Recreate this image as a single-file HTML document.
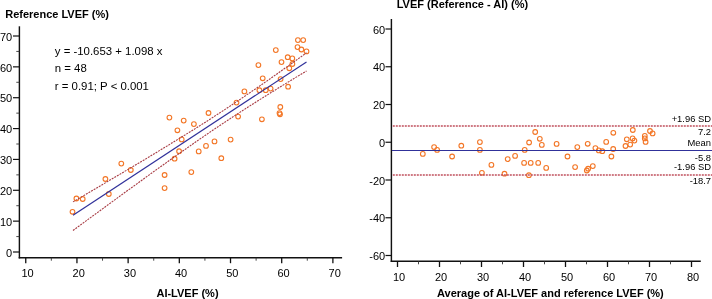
<!DOCTYPE html>
<html><head><meta charset="utf-8"><style>
html,body{margin:0;padding:0;background:#fff;}
body{width:712px;height:299px;overflow:hidden;}
svg{display:block;will-change:transform;}
text{font-family:"Liberation Sans",sans-serif;fill:#000;}
.b{font-weight:bold;font-size:11px;}
.t{font-size:11px;}
.s{font-size:9.4px;}
.e{font-size:11.4px;}
</style></head><body>
<svg width="712" height="299" viewBox="0 0 712 299">

<text class="b" x="5.2" y="18.3">Reference LVEF (%)</text>
<g stroke="#111" stroke-width="1.45" fill="none">
<line x1="19.4" y1="26.3" x2="19.4" y2="258.4"/>
<line x1="18.7" y1="257.7" x2="342.1" y2="257.7"/>
<line x1="13.0" y1="252.00" x2="19.4" y2="252.00" stroke-width="1.2"/>
<line x1="13.0" y1="221.14" x2="19.4" y2="221.14" stroke-width="1.2"/>
<line x1="13.0" y1="190.29" x2="19.4" y2="190.29" stroke-width="1.2"/>
<line x1="13.0" y1="159.43" x2="19.4" y2="159.43" stroke-width="1.2"/>
<line x1="13.0" y1="128.57" x2="19.4" y2="128.57" stroke-width="1.2"/>
<line x1="13.0" y1="97.72" x2="19.4" y2="97.72" stroke-width="1.2"/>
<line x1="13.0" y1="66.86" x2="19.4" y2="66.86" stroke-width="1.2"/>
<line x1="13.0" y1="36.00" x2="19.4" y2="36.00" stroke-width="1.2"/>
<line x1="25.75" y1="257.7" x2="25.75" y2="263.2" stroke-width="1.3"/>
<line x1="76.94" y1="257.7" x2="76.94" y2="263.2" stroke-width="1.3"/>
<line x1="128.13" y1="257.7" x2="128.13" y2="263.2" stroke-width="1.3"/>
<line x1="179.32" y1="257.7" x2="179.32" y2="263.2" stroke-width="1.3"/>
<line x1="230.51" y1="257.7" x2="230.51" y2="263.2" stroke-width="1.3"/>
<line x1="281.70" y1="257.7" x2="281.70" y2="263.2" stroke-width="1.3"/>
<line x1="332.89" y1="257.7" x2="332.89" y2="263.2" stroke-width="1.3"/>
</g>
<g stroke="#333" stroke-width="0.9" fill="none">
<line x1="16.3" y1="236.57" x2="19.4" y2="236.57"/>
<line x1="16.3" y1="205.71" x2="19.4" y2="205.71"/>
<line x1="16.3" y1="174.86" x2="19.4" y2="174.86"/>
<line x1="16.3" y1="144.00" x2="19.4" y2="144.00"/>
<line x1="16.3" y1="113.14" x2="19.4" y2="113.14"/>
<line x1="16.3" y1="82.29" x2="19.4" y2="82.29"/>
<line x1="16.3" y1="51.43" x2="19.4" y2="51.43"/>
<line x1="51.34" y1="257.7" x2="51.34" y2="260.7"/>
<line x1="102.53" y1="257.7" x2="102.53" y2="260.7"/>
<line x1="153.72" y1="257.7" x2="153.72" y2="260.7"/>
<line x1="204.91" y1="257.7" x2="204.91" y2="260.7"/>
<line x1="256.11" y1="257.7" x2="256.11" y2="260.7"/>
<line x1="307.29" y1="257.7" x2="307.29" y2="260.7"/>
</g>
<text class="t" x="12.2" y="256.70" text-anchor="end">0</text>
<text class="t" x="12.2" y="225.84" text-anchor="end">10</text>
<text class="t" x="12.2" y="194.99" text-anchor="end">20</text>
<text class="t" x="12.2" y="164.13" text-anchor="end">30</text>
<text class="t" x="12.2" y="133.27" text-anchor="end">40</text>
<text class="t" x="12.2" y="102.42" text-anchor="end">50</text>
<text class="t" x="12.2" y="71.56" text-anchor="end">60</text>
<text class="t" x="12.2" y="40.70" text-anchor="end">70</text>
<text class="t" x="27.55" y="276.5" text-anchor="middle">10</text>
<text class="t" x="78.74" y="276.5" text-anchor="middle">20</text>
<text class="t" x="129.93" y="276.5" text-anchor="middle">30</text>
<text class="t" x="181.12" y="276.5" text-anchor="middle">40</text>
<text class="t" x="232.31" y="276.5" text-anchor="middle">50</text>
<text class="t" x="283.50" y="276.5" text-anchor="middle">60</text>
<text class="t" x="334.69" y="276.5" text-anchor="middle">70</text>
<text class="b" x="187.5" y="296.7" text-anchor="middle">AI-LVEF (%)</text>
<text class="e" x="54.8" y="54.5">y = -10.653 + 1.098 x</text>
<text class="e" x="54.8" y="72.1">n = 48</text>
<text class="e" x="54.8" y="89.6">r = 0.91; P &lt; 0.001</text>
<g fill="none" stroke="#f37626" stroke-width="1.1">
<circle cx="72.5" cy="211.8" r="2.35"/>
<circle cx="76.4" cy="198.5" r="2.35"/>
<circle cx="82.7" cy="199" r="2.35"/>
<circle cx="105.4" cy="179" r="2.35"/>
<circle cx="108.8" cy="194" r="2.35"/>
<circle cx="121.3" cy="163.6" r="2.35"/>
<circle cx="130.8" cy="170" r="2.35"/>
<circle cx="164.6" cy="175" r="2.35"/>
<circle cx="164.6" cy="188.1" r="2.35"/>
<circle cx="169.4" cy="117.6" r="2.35"/>
<circle cx="174.6" cy="158.7" r="2.35"/>
<circle cx="177.4" cy="130.3" r="2.35"/>
<circle cx="179.1" cy="151.2" r="2.35"/>
<circle cx="181.7" cy="139.4" r="2.35"/>
<circle cx="183.7" cy="120.6" r="2.35"/>
<circle cx="191.3" cy="172.1" r="2.35"/>
<circle cx="193.9" cy="124.1" r="2.35"/>
<circle cx="198.7" cy="151.4" r="2.35"/>
<circle cx="206" cy="145.9" r="2.35"/>
<circle cx="208.5" cy="113" r="2.35"/>
<circle cx="214.5" cy="141.4" r="2.35"/>
<circle cx="221.3" cy="158.2" r="2.35"/>
<circle cx="230.6" cy="139.6" r="2.35"/>
<circle cx="236.5" cy="102.6" r="2.35"/>
<circle cx="238.1" cy="116.6" r="2.35"/>
<circle cx="244.4" cy="91.4" r="2.35"/>
<circle cx="258.4" cy="65.1" r="2.35"/>
<circle cx="259.4" cy="90.2" r="2.35"/>
<circle cx="261.9" cy="119.3" r="2.35"/>
<circle cx="262.7" cy="78.3" r="2.35"/>
<circle cx="265.7" cy="90.2" r="2.35"/>
<circle cx="270.6" cy="88.6" r="2.35"/>
<circle cx="275.8" cy="50.1" r="2.35"/>
<circle cx="279.5" cy="113.1" r="2.35"/>
<circle cx="280.0" cy="114.3" r="2.35"/>
<circle cx="280.3" cy="107" r="2.35"/>
<circle cx="280.6" cy="79.1" r="2.35"/>
<circle cx="281.5" cy="62.1" r="2.35"/>
<circle cx="287.7" cy="57.2" r="2.35"/>
<circle cx="288.1" cy="86.7" r="2.35"/>
<circle cx="289.3" cy="68.3" r="2.35"/>
<circle cx="292.3" cy="58.4" r="2.35"/>
<circle cx="292.4" cy="64" r="2.35"/>
<circle cx="297.9" cy="40.1" r="2.35"/>
<circle cx="297.5" cy="47.1" r="2.35"/>
<circle cx="301.4" cy="49.5" r="2.35"/>
<circle cx="303.2" cy="40.1" r="2.35"/>
<circle cx="306.5" cy="51.4" r="2.35"/>
</g>
<polyline points="73.0,201.9 78.8,198.5 84.7,195.1 90.5,191.6 96.3,188.2 102.2,184.7 108.0,181.3 113.9,177.8 119.7,174.4 125.5,170.9 131.4,167.5 137.2,164.0 143.1,160.5 148.9,157.0 154.7,153.5 160.6,149.9 166.4,146.4 172.2,142.8 178.1,139.2 183.9,135.6 189.8,132.0 195.6,128.4 201.4,124.7 207.3,121.0 213.1,117.2 218.9,113.4 224.8,109.6 230.6,105.7 236.4,101.8 242.3,97.9 248.1,93.9 254.0,89.9 259.8,85.9 265.6,81.9 271.5,77.8 277.3,73.7 283.1,69.5 289.0,65.4 294.8,61.2 300.7,57.0 306.5,52.8" fill="none" stroke="#a83c44" stroke-width="1.1" stroke-dasharray="2 1"/>
<polyline points="73.0,230.5 78.8,226.2 84.7,221.9 90.5,217.6 96.3,213.4 102.2,209.1 108.0,204.8 113.9,200.5 119.7,196.3 125.5,192.0 131.4,187.8 137.2,183.6 143.1,179.3 148.9,175.1 154.7,170.9 160.6,166.7 166.4,162.6 172.2,158.4 178.1,154.3 183.9,150.2 189.8,146.1 195.6,142.0 201.4,138.0 207.3,134.0 213.1,130.0 218.9,126.1 224.8,122.2 230.6,118.4 236.4,114.5 242.3,110.8 248.1,107.0 254.0,103.3 259.8,99.6 265.6,96.0 271.5,92.3 277.3,88.7 283.1,85.1 289.0,81.6 294.8,78.0 300.7,74.5 306.5,71.0" fill="none" stroke="#a83c44" stroke-width="1.1" stroke-dasharray="2 1"/>
<line x1="73" y1="215.3" x2="306.5" y2="61.9" stroke="#30319a" stroke-width="1.2"/>
<text class="b" x="396.7" y="7.8">LVEF (Reference - AI) (%)</text>
<g stroke="#111" stroke-width="1.45" fill="none">
<line x1="391.4" y1="19" x2="391.4" y2="262"/>
<line x1="390.7" y1="261.3" x2="700.8" y2="261.3"/>
<line x1="385.5" y1="255.50" x2="391.4" y2="255.50" stroke-width="1.2"/>
<line x1="385.5" y1="217.75" x2="391.4" y2="217.75" stroke-width="1.2"/>
<line x1="385.5" y1="180.00" x2="391.4" y2="180.00" stroke-width="1.2"/>
<line x1="385.5" y1="142.25" x2="391.4" y2="142.25" stroke-width="1.2"/>
<line x1="385.5" y1="104.50" x2="391.4" y2="104.50" stroke-width="1.2"/>
<line x1="385.5" y1="66.75" x2="391.4" y2="66.75" stroke-width="1.2"/>
<line x1="385.5" y1="29.00" x2="391.4" y2="29.00" stroke-width="1.2"/>
<line x1="397.50" y1="261.3" x2="397.50" y2="267" stroke-width="1.3"/>
<line x1="439.50" y1="261.3" x2="439.50" y2="267" stroke-width="1.3"/>
<line x1="481.50" y1="261.3" x2="481.50" y2="267" stroke-width="1.3"/>
<line x1="523.50" y1="261.3" x2="523.50" y2="267" stroke-width="1.3"/>
<line x1="565.50" y1="261.3" x2="565.50" y2="267" stroke-width="1.3"/>
<line x1="607.50" y1="261.3" x2="607.50" y2="267" stroke-width="1.3"/>
<line x1="649.50" y1="261.3" x2="649.50" y2="267" stroke-width="1.3"/>
<line x1="691.50" y1="261.3" x2="691.50" y2="267" stroke-width="1.3"/>
</g>
<g stroke="#333" stroke-width="0.9" fill="none">
<line x1="418.50" y1="261.3" x2="418.50" y2="264.3"/>
<line x1="460.50" y1="261.3" x2="460.50" y2="264.3"/>
<line x1="502.50" y1="261.3" x2="502.50" y2="264.3"/>
<line x1="544.50" y1="261.3" x2="544.50" y2="264.3"/>
<line x1="586.50" y1="261.3" x2="586.50" y2="264.3"/>
<line x1="628.50" y1="261.3" x2="628.50" y2="264.3"/>
<line x1="670.50" y1="261.3" x2="670.50" y2="264.3"/>
</g>
<text class="t" x="385.2" y="260.10" text-anchor="end">-60</text>
<text class="t" x="385.2" y="222.35" text-anchor="end">-40</text>
<text class="t" x="385.2" y="184.60" text-anchor="end">-20</text>
<text class="t" x="385.2" y="146.85" text-anchor="end">0</text>
<text class="t" x="385.2" y="109.10" text-anchor="end">20</text>
<text class="t" x="385.2" y="71.35" text-anchor="end">40</text>
<text class="t" x="385.2" y="33.60" text-anchor="end">60</text>
<text class="t" x="399.10" y="281.3" text-anchor="middle">10</text>
<text class="t" x="441.10" y="281.3" text-anchor="middle">20</text>
<text class="t" x="483.10" y="281.3" text-anchor="middle">30</text>
<text class="t" x="525.10" y="281.3" text-anchor="middle">40</text>
<text class="t" x="567.10" y="281.3" text-anchor="middle">50</text>
<text class="t" x="609.10" y="281.3" text-anchor="middle">60</text>
<text class="t" x="651.10" y="281.3" text-anchor="middle">70</text>
<text class="t" x="693.10" y="281.3" text-anchor="middle">80</text>
<text class="b" x="437" y="296.5">Average of AI-LVEF and reference LVEF (%)</text>
<g fill="none" stroke="#f37626" stroke-width="1.1">
<circle cx="422.8" cy="153.9" r="2.35"/>
<circle cx="434.1" cy="147.1" r="2.35"/>
<circle cx="437.1" cy="149.9" r="2.35"/>
<circle cx="452.1" cy="156.5" r="2.35"/>
<circle cx="461.3" cy="145.7" r="2.35"/>
<circle cx="479.9" cy="142.1" r="2.35"/>
<circle cx="479.9" cy="149.9" r="2.35"/>
<circle cx="481.9" cy="172.8" r="2.35"/>
<circle cx="491.4" cy="164.9" r="2.35"/>
<circle cx="504.5" cy="173.7" r="2.35"/>
<circle cx="507.7" cy="159.1" r="2.35"/>
<circle cx="515.1" cy="155.9" r="2.35"/>
<circle cx="524.1" cy="162.9" r="2.35"/>
<circle cx="524.7" cy="149.9" r="2.35"/>
<circle cx="529.1" cy="142.5" r="2.35"/>
<circle cx="528.9" cy="175.2" r="2.35"/>
<circle cx="530.7" cy="162.9" r="2.35"/>
<circle cx="535.2" cy="132.0" r="2.35"/>
<circle cx="538.2" cy="162.9" r="2.35"/>
<circle cx="539.8" cy="138.8" r="2.35"/>
<circle cx="541.8" cy="144.9" r="2.35"/>
<circle cx="546.2" cy="167.9" r="2.35"/>
<circle cx="556.6" cy="143.9" r="2.35"/>
<circle cx="567.5" cy="156.5" r="2.35"/>
<circle cx="575.1" cy="167.1" r="2.35"/>
<circle cx="577.3" cy="147.1" r="2.35"/>
<circle cx="587.7" cy="143.8" r="2.35"/>
<circle cx="586.8" cy="170.5" r="2.35"/>
<circle cx="588.1" cy="168.7" r="2.35"/>
<circle cx="592.8" cy="166.1" r="2.35"/>
<circle cx="595.4" cy="148.1" r="2.35"/>
<circle cx="598.8" cy="150.4" r="2.35"/>
<circle cx="602.3" cy="151.2" r="2.35"/>
<circle cx="606.2" cy="141.9" r="2.35"/>
<circle cx="611.4" cy="156.5" r="2.35"/>
<circle cx="613.3" cy="132.8" r="2.35"/>
<circle cx="613.2" cy="149.0" r="2.35"/>
<circle cx="632.8" cy="130.0" r="2.35"/>
<circle cx="626.8" cy="139.3" r="2.35"/>
<circle cx="632.6" cy="138.4" r="2.35"/>
<circle cx="634.4" cy="140.6" r="2.35"/>
<circle cx="625.5" cy="146.0" r="2.35"/>
<circle cx="630.2" cy="144.6" r="2.35"/>
<circle cx="644.8" cy="135.9" r="2.35"/>
<circle cx="644.8" cy="138.4" r="2.35"/>
<circle cx="645.6" cy="141.9" r="2.35"/>
<circle cx="650" cy="131.0" r="2.35"/>
<circle cx="652.6" cy="133.4" r="2.35"/>
</g>
<g stroke="#c0505e" stroke-width="1.5" stroke-dasharray="2 1">
<line x1="392.8" y1="126" x2="712" y2="126"/>
<line x1="392.8" y1="175" x2="712" y2="175"/>
</g>
<line x1="392" y1="150.5" x2="712" y2="150.5" stroke="#30319a" stroke-width="1.1"/>
<g class="s" text-anchor="end">
<text x="711" y="121.7">+1.96 SD</text>
<text x="711" y="135.1">7.2</text>
<text x="711" y="145.7">Mean</text>
<text x="711" y="160.8">-5.8</text>
<text x="711" y="170.1">-1.96 SD</text>
<text x="711" y="183.7">-18.7</text>
</g>
</svg></body></html>
